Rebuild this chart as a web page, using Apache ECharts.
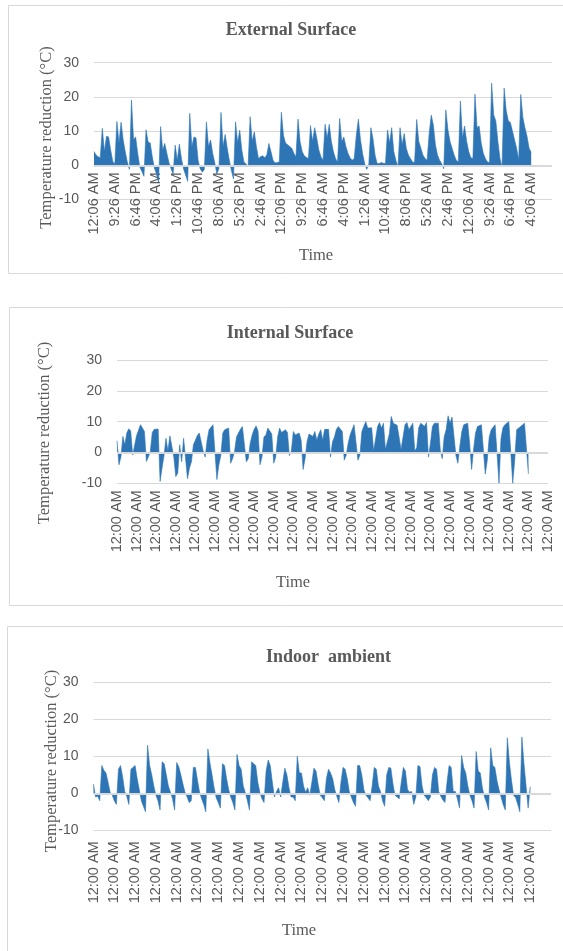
<!DOCTYPE html>
<html>
<head>
<meta charset="utf-8">
<script src="https://cdn.jsdelivr.net/npm/echarts/dist/echarts.min.js"></script>
<style>
  html, body { margin: 0; padding: 0; background: #ffffff; }
  #chart { width: 563px; height: 951px; }
</style>
</head>
<body>
<div id="chart"></div>
<script>
// Tick labels shown under each panel (one label every STEP samples)
const extTicks = ['12:06 AM','9:26 AM','6:46 PM','4:06 AM','1:26 PM','10:46 PM','8:06 AM','5:26 PM','2:46 AM','12:06 PM','9:26 PM',
  '6:46 AM','4:06 PM','1:26 AM','10:46 AM','8:06 PM','5:26 AM','2:46 PM','12:06 AM','9:26 AM','6:46 PM','4:06 AM'];
const intTicks = ['12:00 AM','12:00 AM','12:00 AM','12:00 AM','12:00 AM','12:00 AM','12:00 AM','12:00 AM','12:00 AM','12:00 AM','12:00 AM','12:00 AM',
  '12:00 AM','12:00 AM','12:00 AM','12:00 AM','12:00 AM','12:00 AM','12:00 AM','12:00 AM','12:00 AM','12:00 AM','12:00 AM'];
const indoorTicks = ['12:00 AM','12:00 AM','12:00 AM','12:00 AM','12:00 AM','12:00 AM','12:00 AM','12:00 AM','12:00 AM','12:00 AM','12:00 AM',
  '12:00 AM','12:00 AM','12:00 AM','12:00 AM','12:00 AM','12:00 AM','12:00 AM','12:00 AM','12:00 AM','12:00 AM','12:00 AM'];

// Temperature reduction (°C), external surface
const externalSurface = [
  4.0, 3.0, 2.5, 2.2, 10.8, 4.0, 8.5, 8.3, 4.5, 1.2,
  0.3, 12.8, 6.5, 12.6, 7.5, 4.0, 1.0, -1.2, 19.1, 7.5,
  8.3, 3.5, -0.5, -1.8, -3.2, 10.4, 6.8, 6.5, 2.5, -0.8,
  -2.5, -5.0, 11.3, 4.5, 6.4, 3.5, 0.8, -1.0, -2.5, 5.9,
  1.5, 6.2, 2.0, -1.0, -2.8, -4.7, 15.2, 5.4, 8.3, 8.0,
  1.5, -1.0, -2.0, -1.2, 12.7, 5.5, 7.4, 3.5, 0.8, -2.5,
  -1.0, 15.5, 5.5, 9.0, 5.0, 1.5, -1.5, -4.0, 12.7, 6.5,
  10.3, 4.5, 1.0, 0.4, -0.5, 14.2, 7.0, 9.8, 5.5, 2.0,
  2.5, 2.8, 2.2, 3.0, 6.4, 4.0, 1.5, 0.7, 0.8, 1.0,
  15.5, 8.8, 6.5, 6.0, 5.5, 5.0, 3.5, 2.5, 13.5, 6.9,
  4.0, 2.8, 2.3, 2.0, 11.6, 7.0, 11.0, 8.0, 4.5, 2.5,
  1.5, 12.0, 8.0, 12.0, 7.0, 4.0, 2.0, 1.0, 13.7, 6.9,
  8.3, 5.5, 3.5, 2.2, 1.5, 2.0, 8.8, 13.5, 7.5, 3.5,
  0.5, -1.2, 0.3, 11.0, 7.8, 3.0, 0.5, 0.5, 0.8, 0.6,
  0.5, 10.3, 6.5, 11.0, 4.0, 1.5, -0.5, 11.0, 6.0, 9.3,
  5.0, 3.0, 2.0, 1.0, 0.8, 13.4, 7.0, 5.0, 3.0, 2.0,
  1.5, 9.3, 14.7, 11.8, 6.0, 3.0, 1.5, 0.5, -1.0, 16.2,
  10.5, 7.0, 5.0, 3.0, 1.5, 1.0, 18.8, 8.0, 11.5, 7.0,
  4.0, 2.2, 2.0, 20.8, 11.0, 11.5, 6.5, 3.5, 2.0, 1.0,
  0.8, 24.0, 14.7, 13.0, 7.0, 2.0, -0.5, 22.6, 16.0, 13.0,
  12.5, 10.0, 7.5, 5.0, 1.5, 20.7, 14.0, 11.0, 8.5, 5.0,
  3.8
];

// Temperature reduction (°C), internal surface
const internalSurface = [
  3.8, -4.0, -1.5, 5.2, 2.5, 6.3, 7.7, 7.0, -0.8, -1.0,
  5.5, 6.0, 9.0, 7.9, 6.8, -2.9, -1.5, 0.3, 6.5, 7.5,
  7.9, 7.6, -9.4, -5.0, -1.0, 4.6, 0.5, 5.4, 5.7, -1.5,
  -7.8, -6.7, 2.5, -3.0, 4.6, 5.2, -8.5, -5.0, -3.0, 2.5,
  4.0, 5.5, 6.3, 5.7, 0.5, -1.5, 4.0, 7.4, 7.8, 9.0,
  8.5, -8.8, -4.0, -1.0, 6.3, 7.4, 7.0, 7.9, -3.5, -2.0,
  0.3, 5.0, 6.3, 7.5, 8.4, 8.0, -3.0, -2.0, 3.0, 5.7,
  7.5, 8.6, 7.0, -4.0, -1.5, 5.0, 5.7, 7.9, 7.9, 6.0,
  -3.5, -1.5, 5.0, 7.9, 6.5, 6.8, 7.4, 6.5, -1.0, 0.5,
  6.8, 5.7, 6.3, 6.3, 4.0, -5.5, -2.0, 3.5, 6.0, 5.5,
  5.2, 6.8, 4.0, 6.0, 7.4, 4.0, 7.5, 7.9, 7.5, -1.5,
  3.5, 5.0, 7.5, 8.4, 8.0, 6.8, -2.5, -0.8, 3.0, 5.7,
  7.4, 9.0, 9.3, -2.5, -0.8, 6.8, 8.5, 10.0, 7.9, 8.4,
  8.0, 0.5, 1.0, 8.4, 9.7, 7.9, 9.5, 1.0, 1.0, 6.0,
  11.7, 9.5, 9.0, 8.8, 8.4, 1.0, 1.0, 9.0, 9.7, 7.4,
  7.5, 9.5, 0.5, 1.5, 8.0, 9.5, 9.0, 8.5, 9.7, -1.5,
  3.0, 8.4, 9.5, 9.0, 9.5, 1.0, -2.0, 5.0, 7.4, 11.9,
  9.5, 11.5, 11.5, -1.0, -3.5, 2.0, 6.8, 9.0, 9.0, 9.5,
  3.0, -5.5, 1.0, 6.3, 8.4, 8.0, 9.0, 9.0, -7.0, -2.5,
  5.0, 7.4, 7.9, 9.0, 9.3, -10.0, 4.5, 8.0, 9.0, 9.5,
  10.0, 10.6, -10.0, -2.5, 7.4, 8.0, 8.4, 9.0, 9.5, 9.6,
  -7.0
];

// Temperature reduction (°C), indoor ambient air
const indoorAmbient = [
  2.5, -1.0, -0.8, -2.0, 7.5, 6.2, 5.5, 3.0, 0.3, -0.5,
  -2.0, -3.0, 6.5, 7.5, 4.5, 0.5, -0.8, -3.0, 6.5, 7.0,
  7.5, 4.0, 1.0, -2.0, -3.5, -5.0, 13.0, 7.5, 5.0, 2.0,
  -0.5, -2.0, -4.5, 8.5, 8.0, 5.0, 2.0, 0.3, -1.5, -4.5,
  8.3, 7.2, 5.0, 2.5, 0.3, -1.0, -2.5, -2.0, 7.0, 7.0,
  3.5, 0.3, -1.5, -3.0, -5.0, 12.0, 8.2, 5.0, 1.5, -1.2,
  -2.5, -4.0, 8.0, 7.5, 4.0, 1.0, -1.0, -2.5, -4.5, 10.5,
  7.5, 6.5, 2.0, 0.2, -2.0, -4.5, 8.5, 8.0, 7.5, 3.0,
  0.3, -1.5, -2.5, 6.0, 9.0, 7.5, 3.0, -1.0, 0.5, 1.5,
  -1.0, 3.0, 6.8, 5.0, 1.5, -1.0, -1.0, -2.0, 10.0, 5.5,
  5.5, 2.0, 0.3, 1.5, -0.5, 3.0, 6.8, 6.0, 2.5, -0.5,
  -1.2, -2.0, 4.0, 6.5, 5.5, 4.0, 1.0, -0.8, -2.5, 3.0,
  7.0, 6.5, 4.0, 0.5, -1.0, -2.5, -3.5, 7.5, 7.5, 5.0,
  1.0, -0.5, -1.2, -2.0, 2.0, 7.0, 6.5, 2.0, 0.5, -2.0,
  -3.5, 5.0, 7.0, 6.8, 2.5, -0.5, -1.0, -1.5, 3.0, 7.0,
  6.0, 1.0, 0.3, 0.5, -3.0, -1.0, 7.5, 7.2, 2.0, -0.5,
  -1.2, -2.0, -1.0, 5.0, 7.0, 6.5, 0.5, -0.8, -1.8, -2.5,
  3.0, 7.5, 7.0, 0.5, 0.5, -1.5, -4.0, 10.2, 7.0, 5.5,
  2.0, -0.5, -2.0, -4.0, 11.3, 6.0, 5.5, 1.5, -1.0, -2.5,
  -4.5, 12.3, 7.5, 7.0, 3.5, 1.0, -1.0, -3.0, -4.5, 15.0,
  8.3, 3.5, -0.5, -1.2, -3.0, -5.0, 15.2, 8.0, 2.0, -4.0,
  1.8
];

const STEP = 10;          // samples between two labelled ticks
const SLOTS = 221;        // category slots along each time axis
const BLUE = '#2e75b6';
const GRID_GRAY = '#d9d9d9';
const TEXT_GRAY = '#595959';
const SANS = '"Liberation Sans", Arial, sans-serif';
const SERIF = '"Liberation Serif", "Times New Roman", serif';

function categories(ticks) {
  const out = [];
  for (let k = 0; k < SLOTS; k++) {
    const t = k / STEP;
    out.push(k % STEP === 0 && t < ticks.length ? ticks[t] : '');
  }
  return out;
}

// The first panel hangs its time labels just under the zero line,
// the other two put them under the bottom gridline.
const panels = [
  { title: 'External Surface', data: externalSurface, ticks: extTicks,
    grid: { left: 94, top: 62.7, width: 458, height: 136.8 }, labelMargin: -27,
    box: [8.5, 5.5, 268], titlePos: [291, 30], timePos: [316, 256], yTitlePos: [46.5, 137.5] },
  { title: 'Internal Surface', data: internalSurface, ticks: intTicks,
    grid: { left: 117, top: 360, width: 431, height: 123.3 }, labelMargin: 7,
    box: [9.5, 307.5, 298], titlePos: [290, 333], timePos: [293, 583], yTitlePos: [45, 433] },
  { title: 'Indoor  ambient', data: indoorAmbient, ticks: indoorTicks,
    grid: { left: 93.5, top: 682.3, width: 457.5, height: 148 }, labelMargin: 11,
    box: [7.5, 626.5, 400], titlePos: [328.5, 657], timePos: [299, 931], yTitlePos: [52, 761] }
];

const graphics = [];
panels.forEach(p => {
  graphics.push({ type: 'rect', silent: true, z: -1,
    shape: { x: p.box[0], y: p.box[1], width: 620, height: p.box[2] },
    style: { fill: null, stroke: GRID_GRAY, lineWidth: 1 } });
  graphics.push({ type: 'text', silent: true, x: p.titlePos[0], y: p.titlePos[1],
    style: { text: p.title, x: 0, y: 0, align: 'center', verticalAlign: 'middle',
      font: 'bold 18px ' + SERIF, fill: TEXT_GRAY } });
  graphics.push({ type: 'text', silent: true, x: p.timePos[0], y: p.timePos[1],
    style: { text: 'Time', x: 0, y: 0, align: 'center', verticalAlign: 'middle',
      font: '16.5px ' + SERIF, fill: TEXT_GRAY } });
  graphics.push({ type: 'text', silent: true, x: p.yTitlePos[0], y: p.yTitlePos[1], rotation: Math.PI / 2,
    style: { text: 'Temperature reduction (°C)', x: 0, y: 0, align: 'center', verticalAlign: 'middle',
      font: '16.5px ' + SERIF, fill: TEXT_GRAY } });
});

const option = {
  animation: false,
  backgroundColor: '#ffffff',
  grid: panels.map(p => Object.assign({ containLabel: false }, p.grid)),
  xAxis: panels.map((p, k) => ({
    type: 'category',
    gridIndex: k,
    data: categories(p.ticks),
    boundaryGap: false,
    axisLine: { show: false, onZero: false },
    axisTick: { show: false },
    splitLine: { show: false },
    axisLabel: {
      interval: (i, v) => v !== '',
      rotate: 90,
      margin: p.labelMargin,
      color: TEXT_GRAY,
      fontFamily: SANS,
      fontSize: 14.5
    }
  })),
  yAxis: panels.map((p, k) => ({
    type: 'value',
    gridIndex: k,
    min: -10,
    max: 30,
    interval: 10,
    axisLine: { show: false },
    axisTick: { show: false },
    axisLabel: { color: TEXT_GRAY, fontFamily: SANS, fontSize: 14, margin: 15 },
    splitLine: { lineStyle: { color: GRID_GRAY, width: 1 } }
  })),
  series: panels.map((p, k) => ({
    type: 'line',
    xAxisIndex: k,
    yAxisIndex: k,
    data: p.data,
    symbol: 'none',
    showSymbol: false,
    smooth: false,
    clip: true,
    lineStyle: { color: BLUE, width: 0.6 },
    areaStyle: { color: BLUE, opacity: 1 },
    markLine: {
      silent: true,
      symbol: 'none',
      animation: false,
      label: { show: false },
      lineStyle: { color: GRID_GRAY, width: 2, type: 'solid' },
      data: [{ yAxis: 0 }]
    }
  })),
  graphic: graphics
};

const chart = echarts.init(document.getElementById('chart'), null, { renderer: 'canvas' });
chart.setOption(option);
</script>
</body>
</html>
